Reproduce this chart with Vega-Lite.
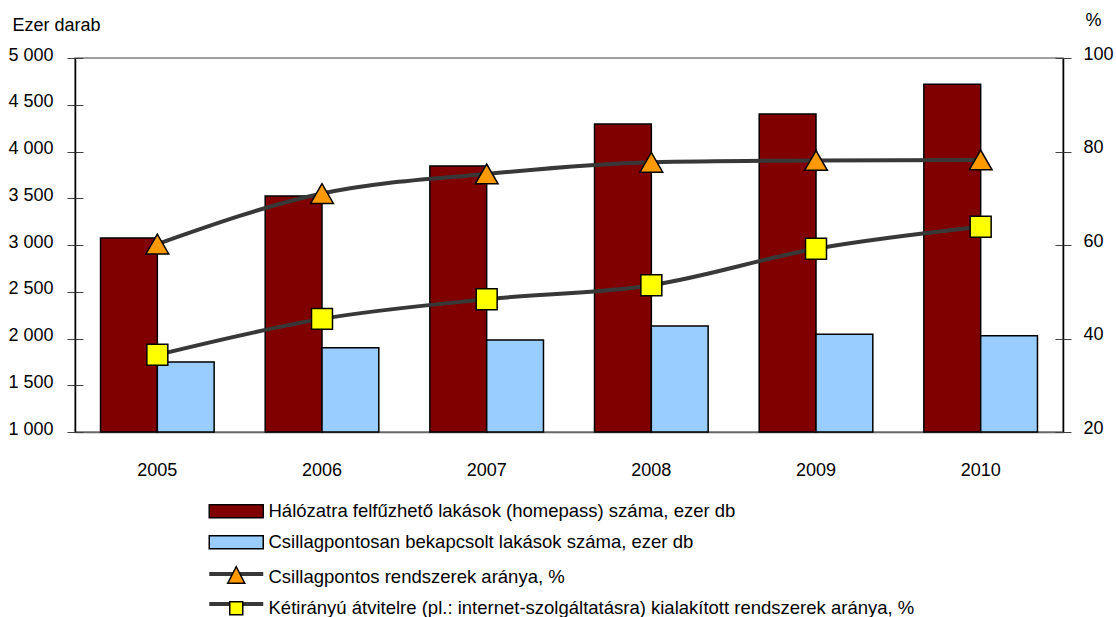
{
  "$schema": "https://vega.github.io/schema/vega-lite/v6.json",
  "width": 988,
  "height": 374,
  "autosize": "none",
  "padding": {"left": 75, "top": 58, "right": 53, "bottom": 185},
  "config": {
    "font": "Liberation Sans",
    "view": {"stroke": "#808080", "strokeWidth": 1.5},
    "axis": {"grid": false, "labelColor": "black", "titleColor": "black", "labelFont": "Liberation Sans", "titleFont": "Liberation Sans", "titleFontWeight": "normal"}
  },
  "data": {
    "values": [
      {"year": "2005", "series": "Hálózatra felfűzhető lakások (homepass) száma, ezer db", "value": 3075},
      {"year": "2006", "series": "Hálózatra felfűzhető lakások (homepass) száma, ezer db", "value": 3525},
      {"year": "2007", "series": "Hálózatra felfűzhető lakások (homepass) száma, ezer db", "value": 3845},
      {"year": "2008", "series": "Hálózatra felfűzhető lakások (homepass) száma, ezer db", "value": 4295},
      {"year": "2009", "series": "Hálózatra felfűzhető lakások (homepass) száma, ezer db", "value": 4400},
      {"year": "2010", "series": "Hálózatra felfűzhető lakások (homepass) száma, ezer db", "value": 4720},
      {"year": "2005", "series": "Csillagpontosan bekapcsolt lakások száma, ezer db", "value": 1750},
      {"year": "2006", "series": "Csillagpontosan bekapcsolt lakások száma, ezer db", "value": 1900},
      {"year": "2007", "series": "Csillagpontosan bekapcsolt lakások száma, ezer db", "value": 1985},
      {"year": "2008", "series": "Csillagpontosan bekapcsolt lakások száma, ezer db", "value": 2135},
      {"year": "2009", "series": "Csillagpontosan bekapcsolt lakások száma, ezer db", "value": 2045},
      {"year": "2010", "series": "Csillagpontosan bekapcsolt lakások száma, ezer db", "value": 2030},
      {"year": "2005", "series": "Csillagpontos rendszerek aránya, %", "value": 60.2},
      {"year": "2006", "series": "Csillagpontos rendszerek aránya, %", "value": 71.0},
      {"year": "2007", "series": "Csillagpontos rendszerek aránya, %", "value": 75.2},
      {"year": "2008", "series": "Csillagpontos rendszerek aránya, %", "value": 77.7},
      {"year": "2009", "series": "Csillagpontos rendszerek aránya, %", "value": 78.1},
      {"year": "2010", "series": "Csillagpontos rendszerek aránya, %", "value": 78.2},
      {"year": "2005", "series": "Kétirányú átvitelre (pl.: internet-szolgáltatásra) kialakított rendszerek aránya, %", "value": 36.5},
      {"year": "2006", "series": "Kétirányú átvitelre (pl.: internet-szolgáltatásra) kialakított rendszerek aránya, %", "value": 44.2},
      {"year": "2007", "series": "Kétirányú átvitelre (pl.: internet-szolgáltatásra) kialakított rendszerek aránya, %", "value": 48.4},
      {"year": "2008", "series": "Kétirányú átvitelre (pl.: internet-szolgáltatásra) kialakított rendszerek aránya, %", "value": 51.4},
      {"year": "2009", "series": "Kétirányú átvitelre (pl.: internet-szolgáltatásra) kialakított rendszerek aránya, %", "value": 59.2},
      {"year": "2010", "series": "Kétirányú átvitelre (pl.: internet-szolgáltatásra) kialakított rendszerek aránya, %", "value": 63.9}
    ]
  },
  "encoding": {
    "x": {"field": "year", "type": "ordinal", "scale": {"paddingInner": 0.31, "paddingOuter": 0.155},
          "axis": {"orient": "bottom", "title": null, "labelAngle": 0, "ticks": false, "labelPadding": 29, "labelFontSize": 18, "domainColor": "#666666", "domainWidth": 1.5}}
  },
  "layer": [
    {
      "transform": [{"filter": {"field": "series", "oneOf": ["Hálózatra felfűzhető lakások (homepass) száma, ezer db", "Csillagpontosan bekapcsolt lakások száma, ezer db"]}}],
      "layer": [
        {
          "mark": {"type": "bar", "stroke": "black", "strokeWidth": 1.5},
          "encoding": {
            "xOffset": {"field": "series", "type": "nominal", "scale": {"domain": ["Hálózatra felfűzhető lakások (homepass) száma, ezer db", "Csillagpontosan bekapcsolt lakások száma, ezer db"]}},
            "y": {"field": "value", "type": "quantitative", "stack": null, "scale": {"domain": [1000, 5000], "zero": false},
                  "axis": {"orient": "left", "values": [1000, 1500, 2000, 2500, 3000, 3500, 4000, 4500, 5000], "labelExpr": "replace(format(datum.value, ','), ',', ' ')", "tickSize": 8, "tickColor": "#404040", "domainColor": "black", "domainWidth": 1.5, "labelPadding": 14, "labelFontSize": 18, "labelOffset": -3, "title": "Ezer darab", "titleAngle": 0, "titleAlign": "left", "titleBaseline": "alphabetic", "titleX": -63, "titleY": -28, "titleFontSize": 18}},
            "color": {"field": "series", "type": "nominal",
                      "scale": {"domain": ["Hálózatra felfűzhető lakások (homepass) száma, ezer db", "Csillagpontosan bekapcsolt lakások száma, ezer db", "Csillagpontos rendszerek aránya, %", "Kétirányú átvitelre (pl.: internet-szolgáltatásra) kialakított rendszerek aránya, %"], "range": ["#800000", "#99CCFF", "#FF9900", "#FFFF00"]},
                      "legend": {"orient": "none", "legendX": 152, "legendY": 444, "direction": "vertical", "title": null, "padding": 0, "symbolSize": 100, "symbolStrokeColor": "black", "symbolStrokeWidth": 1.5, "symbolOpacity": 1, "labelFont": "Liberation Sans", "labelFontSize": 18.5, "labelColor": "black", "labelOffset": 23, "labelLimit": 0, "rowPadding": 11, "zindex": 1,
                                 "encode": {"symbols": {"update": {"shape": {"signal": "datum.index < 2 ? 'M-5.4,-1.3H5.4V1.3H-5.4Z' : datum.index == 2 ? 'M0,-2.1L1.7,1.2L-1.7,1.2Z' : 'M-1.3,-1.3H1.3V1.3H-1.3Z'"}, "stroke": {"value": "black"}, "strokeWidth": {"value": 1.5}}}}}}
          }
        },
        {
          "mark": {"type": "bar", "opacity": 0},
          "encoding": {
            "xOffset": {"field": "series", "type": "nominal"},
            "y": {"field": "value", "type": "quantitative", "stack": null, "scale": {"domain": [1000, 5000], "zero": false},
                  "axis": {"orient": "left", "values": [1000, 1500, 2000, 2500, 3000, 3500, 4000, 4500, 5000], "tickSize": -8, "tickColor": "#404040", "labels": false, "domain": false, "title": null}}
          }
        }
      ],
      "resolve": {"axis": {"y": "independent"}}
    },
    {
      "transform": [{"filter": {"field": "series", "oneOf": ["Csillagpontos rendszerek aránya, %", "Kétirányú átvitelre (pl.: internet-szolgáltatásra) kialakított rendszerek aránya, %"]}}],
      "layer": [
        {
          "mark": {"type": "line", "interpolate": "monotone", "strokeWidth": 4},
          "encoding": {
            "y": {"field": "value", "type": "quantitative", "scale": {"domain": [20, 100]},
                  "axis": {"orient": "right", "values": [20, 40, 60, 80, 100], "tickSize": 8, "tickColor": "#404040", "domainColor": "black", "domainWidth": 1.5, "labelPadding": 12, "labelFontSize": 18, "labelOffset": -4, "title": "%", "titleAngle": 0, "titleAlign": "left", "titleBaseline": "alphabetic", "titleX": 22, "titleY": -33, "titleFontSize": 18}},
            "stroke": {"field": "series", "type": "nominal",
                       "scale": {"domain": ["Csillagpontos rendszerek aránya, %", "Kétirányú átvitelre (pl.: internet-szolgáltatásra) kialakított rendszerek aránya, %"], "range": ["#383838", "#383838"]},
                       "legend": {"orient": "none", "legendX": 152, "legendY": 506.75, "direction": "vertical", "title": null, "padding": 0, "symbolSize": 100, "symbolStrokeWidth": 1.5, "labelFont": "Liberation Sans", "labelFontSize": 18.5, "labelExpr": "' '", "labelOffset": 23, "labelLimit": 0, "rowPadding": 11, "zindex": 0,
                                  "encode": {"symbols": {"update": {"shape": {"value": "M-5.4,0H5.4"}, "stroke": {"value": "#383838"}, "strokeWidth": {"value": 4}, "fill": {"value": "transparent"}}}}}}
          }
        },
        {
          "transform": [{"filter": {"field": "series", "equal": "Csillagpontos rendszerek aránya, %"}}],
          "mark": {"type": "point", "shape": "triangle-up", "filled": true, "fill": "#FF9900", "opacity": 1, "stroke": "black", "strokeWidth": 1.5, "size": 520},
          "encoding": {
            "y": {"field": "value", "type": "quantitative", "scale": {"domain": [20, 100]},
                  "axis": {"orient": "right", "values": [20, 40, 60, 80, 100], "tickSize": -8, "tickColor": "#404040", "labels": false, "domain": false, "title": null}}
          }
        },
        {
          "transform": [{"filter": {"field": "series", "equal": "Kétirányú átvitelre (pl.: internet-szolgáltatásra) kialakított rendszerek aránya, %"}}],
          "mark": {"type": "point", "shape": "square", "filled": true, "fill": "#FFFF00", "opacity": 1, "stroke": "black", "strokeWidth": 1.5, "size": 440},
          "encoding": {
            "y": {"field": "value", "type": "quantitative", "scale": {"domain": [20, 100]}, "axis": null}
          }
        }
      ],
      "resolve": {"axis": {"y": "independent"}}
    }
  ],
  "resolve": {"scale": {"y": "independent"}}
}
